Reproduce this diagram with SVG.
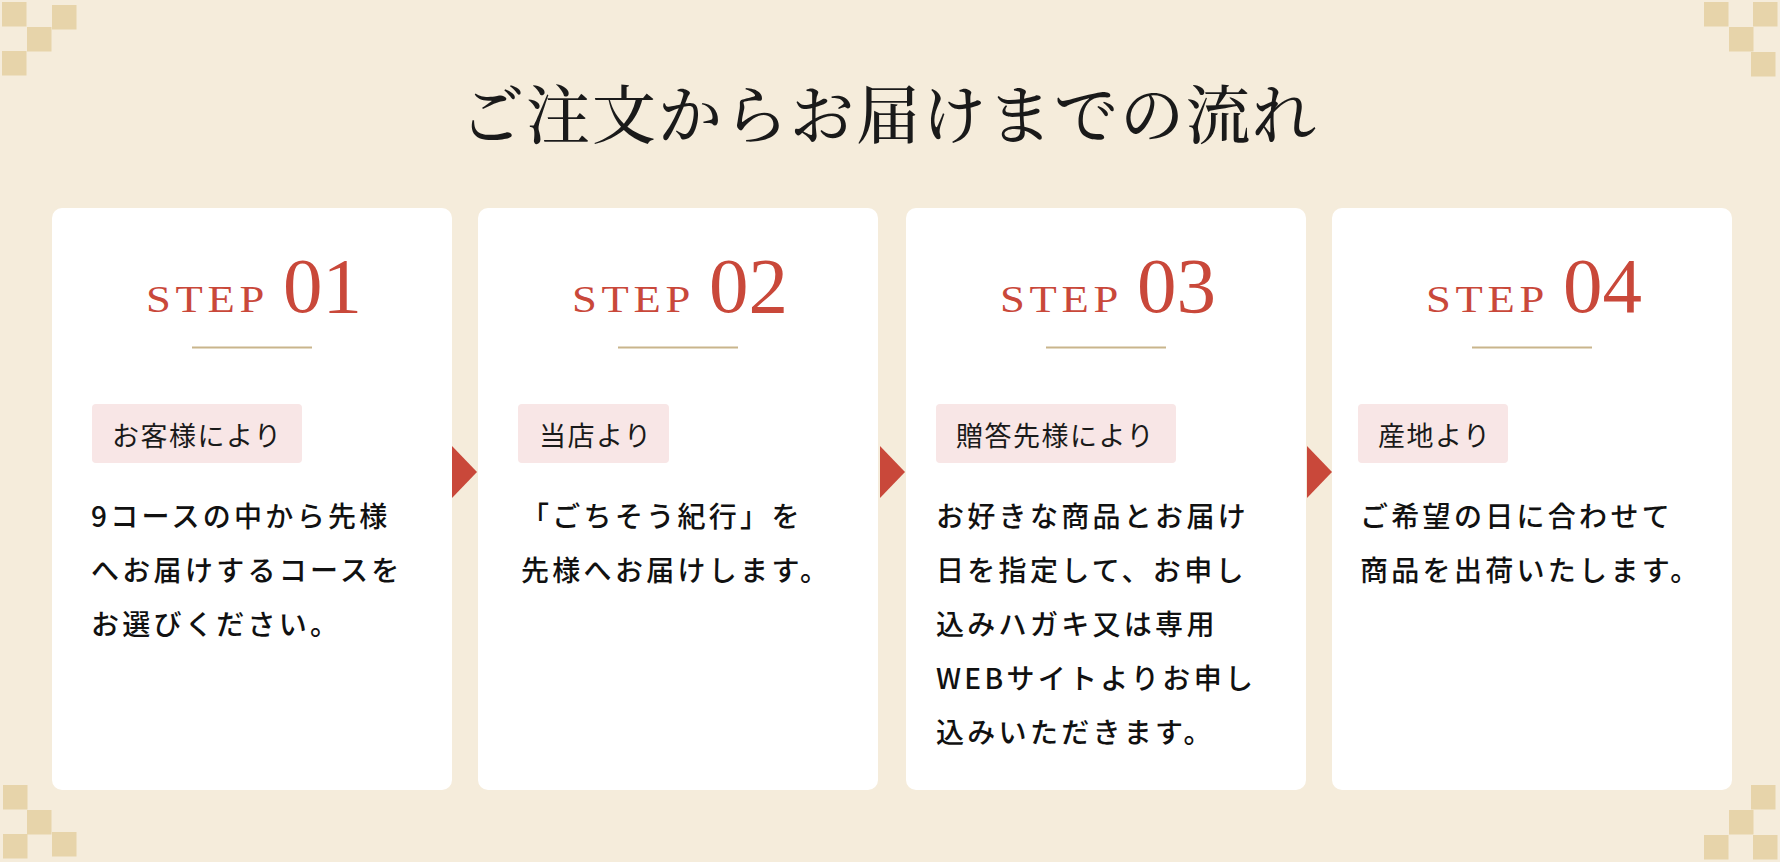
<svg xmlns="http://www.w3.org/2000/svg" width="1780" height="862" viewBox="0 0 1780 862">
<style>
.bg{fill:#f5ecdb}
.sq{fill:#e7d4aa}
.card{fill:#ffffff}
.lab{fill:#f8e6e6}
.title{font-family:"Noto Serif CJK JP","Noto Sans CJK JP",serif;font-size:64px;font-weight:500;fill:#1a1a1a;letter-spacing:2px}
.step{font-family:"Liberation Serif","Times New Roman",serif;font-size:38px;fill:#c9483a;letter-spacing:4px}
.num{font-family:"Liberation Serif","Times New Roman",serif;font-size:79px;fill:#c9483a}
.rule{stroke:#c9b58c;stroke-width:2}
.lt{font-family:"Noto Sans CJK JP","Noto Sans",sans-serif;font-size:27px;fill:#1a1a1a;letter-spacing:1.5px}
.bt{font-family:"Noto Sans CJK JP","Noto Sans",sans-serif;font-size:28px;font-weight:500;fill:#111111;letter-spacing:3.3px}
.arr{fill:#c9483a}
</style>
<rect class="bg" x="0" y="0" width="1780" height="862"/>
<g id="corners">
<rect class="sq" x="2" y="2" width="24.5" height="24.5"/>
<rect class="sq" x="52" y="5" width="24.5" height="24.5"/>
<rect class="sq" x="27" y="27" width="24.5" height="24.5"/>
<rect class="sq" x="2" y="51" width="24.5" height="24.5"/>
<rect class="sq" x="3" y="785" width="24.5" height="24.5"/>
<rect class="sq" x="27" y="810" width="24.5" height="24.5"/>
<rect class="sq" x="3" y="834" width="24.5" height="24.5"/>
<rect class="sq" x="52" y="832" width="24.5" height="24.5"/>
<rect class="sq" x="1704" y="2" width="24.5" height="24.5"/>
<rect class="sq" x="1753" y="2" width="24.5" height="24.5"/>
<rect class="sq" x="1729" y="27" width="24.5" height="24.5"/>
<rect class="sq" x="1751" y="52" width="24.5" height="24.5"/>
<rect class="sq" x="1751" y="785" width="24.5" height="24.5"/>
<rect class="sq" x="1729" y="810" width="24.5" height="24.5"/>
<rect class="sq" x="1704" y="835" width="24.5" height="24.5"/>
<rect class="sq" x="1753" y="835" width="24.5" height="24.5"/>
</g>
<g id="title">
<text class="title" x="889" y="138" text-anchor="middle">ご注文からお届けまでの流れ</text>
</g>
<g id="step01">
<rect class="card" x="52" y="208" width="400" height="582" rx="10"/>
<text class="step" x="146" y="312" textLength="123" lengthAdjust="spacingAndGlyphs">STEP</text>
<text class="num" x="283" y="312">01</text>
<line class="rule" x1="192" y1="347.5" x2="312" y2="347.5"/>
<rect class="lab" x="92" y="404" width="210" height="59" rx="4"/>
<text class="lt" x="112" y="446">お客様により</text>
<text class="bt" x="91" y="527">9コースの中から先様</text>
<text class="bt" x="91" y="581">へお届けするコースを</text>
<text class="bt" x="91" y="635">お選びください。</text>
</g>
<g id="step02">
<rect class="card" x="478" y="208" width="400" height="582" rx="10"/>
<text class="step" x="572" y="312" textLength="123" lengthAdjust="spacingAndGlyphs">STEP</text>
<text class="num" x="709" y="312">02</text>
<line class="rule" x1="618" y1="347.5" x2="738" y2="347.5"/>
<rect class="lab" x="518" y="404" width="151" height="59" rx="4"/>
<text class="lt" x="539" y="446">当店より</text>
<text class="bt" x="521" y="527">「ごちそう紀行」を</text>
<text class="bt" x="521" y="581">先様へお届けします。</text>
</g>
<g id="step03">
<rect class="card" x="906" y="208" width="400" height="582" rx="10"/>
<text class="step" x="1000" y="312" textLength="123" lengthAdjust="spacingAndGlyphs">STEP</text>
<text class="num" x="1137" y="312">03</text>
<line class="rule" x1="1046" y1="347.5" x2="1166" y2="347.5"/>
<rect class="lab" x="936" y="404" width="240" height="59" rx="4"/>
<text class="lt" x="956" y="446">贈答先様により</text>
<text class="bt" x="936" y="527">お好きな商品とお届け</text>
<text class="bt" x="936" y="581">日を指定して、お申し</text>
<text class="bt" x="936" y="635">込みハガキ又は専用</text>
<text class="bt" x="936" y="689">WEBサイトよりお申し</text>
<text class="bt" x="936" y="743">込みいただきます。</text>
</g>
<g id="step04">
<rect class="card" x="1332" y="208" width="400" height="582" rx="10"/>
<text class="step" x="1426" y="312" textLength="123" lengthAdjust="spacingAndGlyphs">STEP</text>
<text class="num" x="1563" y="312">04</text>
<line class="rule" x1="1472" y1="347.5" x2="1592" y2="347.5"/>
<rect class="lab" x="1358" y="404" width="150" height="59" rx="4"/>
<text class="lt" x="1378" y="446">産地より</text>
<text class="bt" x="1360" y="527">ご希望の日に合わせて</text>
<text class="bt" x="1360" y="581">商品を出荷いたします。</text>
</g>
<g id="connectors">
<polygon class="arr" points="452,446 477,472 452,498"/>
<polygon class="arr" points="880,446 905,472 880,498"/>
<polygon class="arr" points="1307,446 1332,472 1307,498"/>
</g>
</svg>
